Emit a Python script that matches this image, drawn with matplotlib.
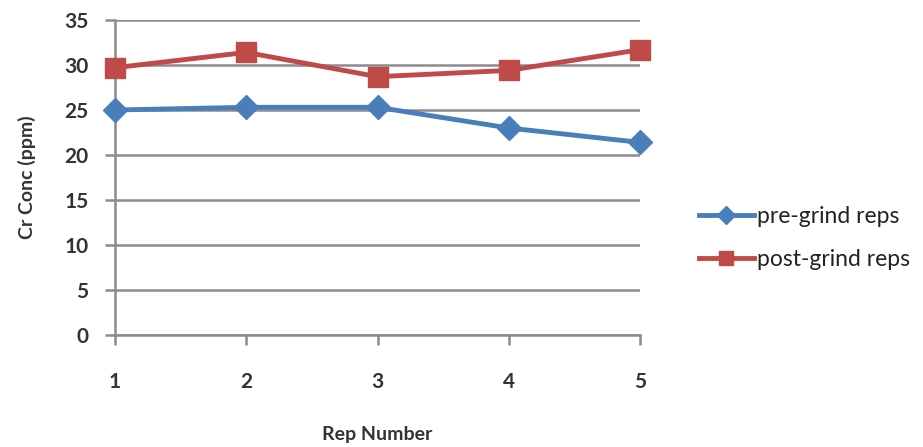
import matplotlib
matplotlib.use("Agg")
import matplotlib.pyplot as plt

reps = [1, 2, 3, 4, 5]
pre_grind = [25.0, 25.3, 25.3, 23.0, 21.4]
post_grind = [29.7, 31.4, 28.7, 29.4, 31.7]
y_ticks = [0, 5, 10, 15, 20, 25, 30, 35]

plt.rcParams['font.family'] = ['Lato', 'DejaVu Sans']

fig = plt.figure(figsize=(9.23, 4.47), dpi=100)
ax = fig.add_axes([115/923, 1-335/447, 525/923, 315/447])

ax.plot(reps, pre_grind, color='#4A7EBB', lw=3.5, marker='D', ms=12,
        label='pre-grind reps', zorder=3, clip_on=False)
ax.plot(reps, post_grind, color='#BE4B48', lw=3.5, marker='s', ms=14,
        label='post-grind reps', zorder=3, clip_on=False)

ax.set_xlim(1, 5)
ax.set_ylim(0, 35)
ax.set_yticks(y_ticks)
ax.set_xticks(reps)
ax.yaxis.grid(True, color='#8c8c8c', lw=1.8)
ax.set_axisbelow(True)
for s in ['top', 'right']:
    ax.spines[s].set_visible(False)
for s in ['left', 'bottom']:
    ax.spines[s].set_color('#8c8c8c')
    ax.spines[s].set_linewidth(1.8)
ax.tick_params(axis='both', length=7, width=1.8, color='#8c8c8c',
               labelsize=15, labelcolor='#333333')
ax.tick_params(axis='x', pad=20)
ax.tick_params(axis='y', pad=12)
for lab in ax.get_xticklabels() + ax.get_yticklabels():
    lab.set_fontweight('bold')

ax.set_ylabel('Cr Conc (ppm)', fontsize=14, fontweight='bold', color='#333333', labelpad=20)
ax.set_xlabel('Rep Number', fontsize=14, fontweight='bold', color='#333333', labelpad=24)

fig.legend(loc='center left', bbox_to_anchor=(678/923, 1-238/447), frameon=False,
           fontsize=16.5, handlelength=2.4, handletextpad=0.15, labelspacing=1.0,
           markerscale=0.75, labelcolor='#222222')

fig.savefig('out.png', dpi=100)
